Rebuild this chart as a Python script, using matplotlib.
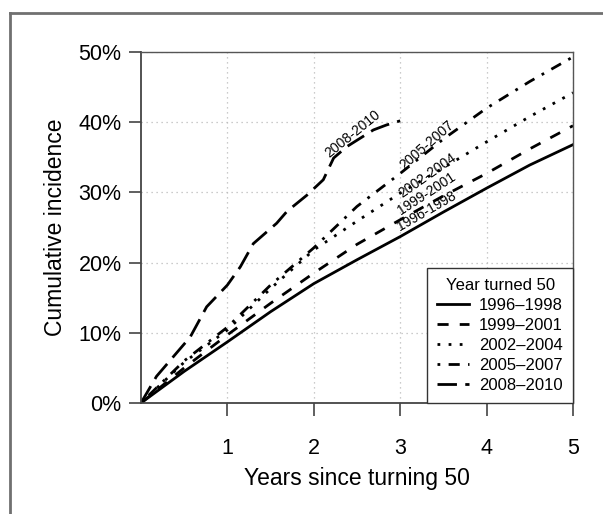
import numpy as np
import matplotlib.pyplot as plt
from matplotlib.lines import Line2D

plt.rcParams['font.family'] = ['Liberation Sans', 'DejaVu Sans']

# years since turning 50
x = [0, 0.5, 1, 1.5, 2, 2.5, 3, 3.5, 4, 4.5, 5]
inc_1996 = [0, 4.5, 8.7, 13.0, 17.0, 20.4, 23.7, 27.2, 30.6, 33.9, 36.8]
inc_1999 = [0, 5.0, 9.7, 14.2, 18.5, 22.6, 26.1, 29.5, 32.7, 36.2, 39.5]
inc_2002 = [0, 5.8, 10.4, 16.3, 21.8, 25.9, 29.9, 33.5, 37.2, 40.8, 44.2]
inc_2005 = [0, 6.0, 10.8, 16.8, 22.1, 28.0, 32.7, 37.6, 42.0, 45.8, 49.3]
x_2008 = [0, 0.18, 0.57, 0.76, 1.0, 1.15, 1.3, 1.57, 1.69, 1.92, 2.11, 2.23, 2.38, 2.69, 2.84, 3.0]
inc_2008 = [0, 3.8, 9.4, 13.7, 16.8, 19.4, 22.7, 25.6, 27.3, 29.6, 31.8, 34.9, 36.5, 38.9, 39.6, 40.2]

labels = ['1996\u20131998', '1999\u20132001', '2002\u20132004', '2005\u20132007', '2008\u20132010']

fig = plt.figure(figsize=(6.03, 5.14), dpi=100)
ax = fig.add_axes([0.2338, 0.2160, 0.7164, 0.6828])

lw = 2.0
ax.plot(x, inc_1996, color='black', lw=lw, ls='-', label=labels[0])
ax.plot(x, inc_1999, color='black', lw=lw, ls=(0, (4, 4)), label=labels[1])
ax.plot(x, inc_2002, color='black', lw=lw, ls=(0, (1, 3)), label=labels[2])
ax.plot(x, inc_2005, color='black', lw=lw, ls=(0, (1, 3, 4, 3)), label=labels[3])
ax.plot(x_2008, inc_2008, color='black', lw=lw, ls=(0, (7, 3)), label=labels[4])

# curve labels
ax.text(2.45, 38.3, '2008-2010', rotation=39, fontsize=10, ha='center', va='center')
ax.text(3.31, 36.8, '2005-2007', rotation=41, fontsize=10, ha='center', va='center')
ax.text(3.31, 32.4, '2002-2004', rotation=35, fontsize=10, ha='center', va='center')
ax.text(3.31, 29.8, '1999-2001', rotation=33, fontsize=10, ha='center', va='center')
ax.text(3.31, 27.4, '1996-1998', rotation=30, fontsize=10, ha='center', va='center')

ax.set_xlim(0, 5)
ax.set_ylim(0, 50)
ax.set_xticks([1, 2, 3, 4, 5])
ax.set_yticks([0, 10, 20, 30, 40, 50])
ax.set_yticklabels([f'{v}%' for v in range(0, 60, 10)])
ax.tick_params(direction='out', length=9, width=1.2, color='#444444', labelsize=15.5)
ax.tick_params(axis='x', pad=16)
ax.tick_params(axis='y', pad=5)
ax.grid(True, ls=(0, (1, 3)), color='#bbbbbb', lw=0.9)
for s in ['left', 'bottom']:
    ax.spines[s].set_color('#444444')
    ax.spines[s].set_linewidth(1.3)
for s in ['top', 'right']:
    ax.spines[s].set_color('#555555')
    ax.spines[s].set_linewidth(1.0)
    ax.spines[s].set_linestyle((0, (2, 1)))

ax.set_xlabel('Years since turning 50', fontsize=16.5, labelpad=6)
ax.set_ylabel('Cumulative incidence', fontsize=16.5, labelpad=8)

leg = ax.legend(title='Year turned 50', loc='lower right', fontsize=12, title_fontsize=12,
                frameon=True, fancybox=False, borderaxespad=0, handlelength=1.9,
                handletextpad=0.6, labelspacing=0.3, borderpad=0.6)
leg.get_frame().set_edgecolor('#333333')
leg.get_frame().set_linewidth(1.0)
leg.get_frame().set_alpha(1)

# outer gray frame
fig.add_artist(Line2D([10 / 603, 10 / 603], [0, 1 - 13 / 514], color='#707070', lw=2,
                      transform=fig.transFigure))
fig.add_artist(Line2D([10 / 603, 1], [1 - 13 / 514, 1 - 13 / 514], color='#707070', lw=2,
                      transform=fig.transFigure))

fig.savefig('out.png', dpi=100)
